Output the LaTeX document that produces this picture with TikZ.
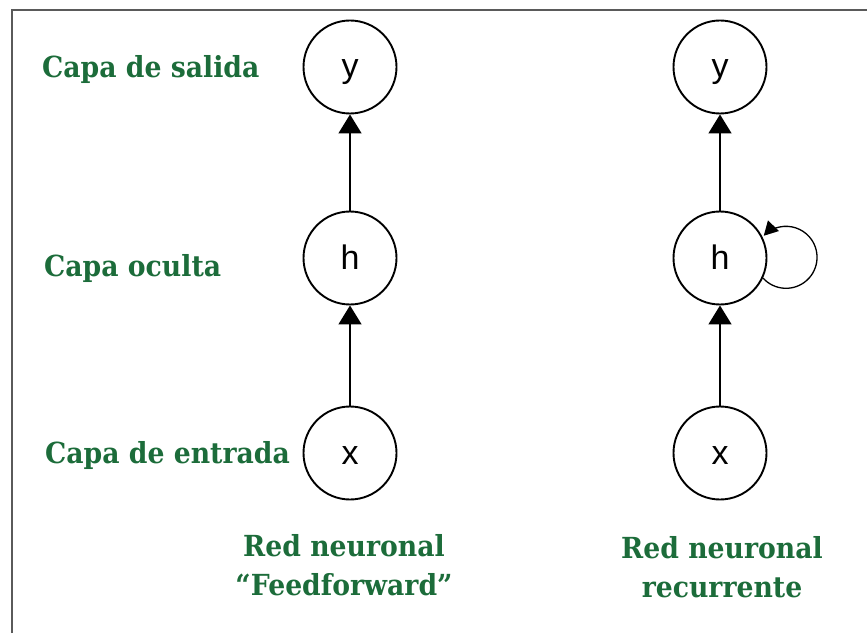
\documentclass[tikz,border=0pt]{standalone}
\usepackage{fontspec}
\setmainfont{DejaVu Serif}
\newfontfamily\lblfont{DejaVu Serif}[FakeStretch=0.92]
\newfontfamily\nodefont{Liberation Sans}
\usetikzlibrary{arrows.meta}
\definecolor{lblgreen}{RGB}{28,108,58}
\definecolor{framegray}{RGB}{90,90,90}
\begin{document}
\begin{tikzpicture}[x=1pt,y=1pt,
  neuron/.style={circle,draw,line width=1.9pt,minimum size=93pt,inner sep=0pt,text height=22pt,text depth=0pt,font=\nodefont\fontsize{34}{34}\selectfont},
  arr/.style={line width=1.5pt,-{Triangle[width=23pt,length=19pt]}},
  looparr/.style={line width=1.3pt,-{Triangle[width=15pt,length=14pt]}},
  lbl/.style={text=lblgreen,font=\lblfont\bfseries\fontsize{29}{39}\selectfont,inner sep=0pt,align=center}]
\useasboundingbox (0,0) rectangle (867,633);
\coordinate (fa) at (12,0);
\coordinate (fb) at (12,623);
\coordinate (fc) at (867,623);
\draw[framegray,line width=2pt] (fa) -- (fb) -- (fc);
% feedforward
\node[neuron] (y1) at (350,566) {y};
\node[neuron] (h1) at (350,375) {h};
\node[neuron] (x1) at (350,180) {x};
\draw[arr] (x1) -- (h1);
\draw[arr] (h1) -- (y1);
% recurrent
\node[neuron] (y2) at (720,566) {y};
\node[neuron] (h2) at (720,375) {h};
\node[neuron] (x2) at (720,180) {x};
\draw[arr] (x2) -- (h2);
\draw[arr] (h2) -- (y2);
\draw[looparr] (h2.-25) arc[start angle=222,end angle=496,radius=31];
% labels
\node[lbl,anchor=west] (l1) at (42,563) {Capa de salida};
\node[lbl,anchor=west] (l2) at (44,365) {Capa oculta};
\node[lbl,anchor=west] (l3) at (45,178) {Capa de entrada};
\node[lbl] (t1) at (344,68) {Red neuronal\\“Feedforward”};
\node[lbl] (t2) at (722,66) {Red neuronal\\recurrente};
\end{tikzpicture}
\end{document}
